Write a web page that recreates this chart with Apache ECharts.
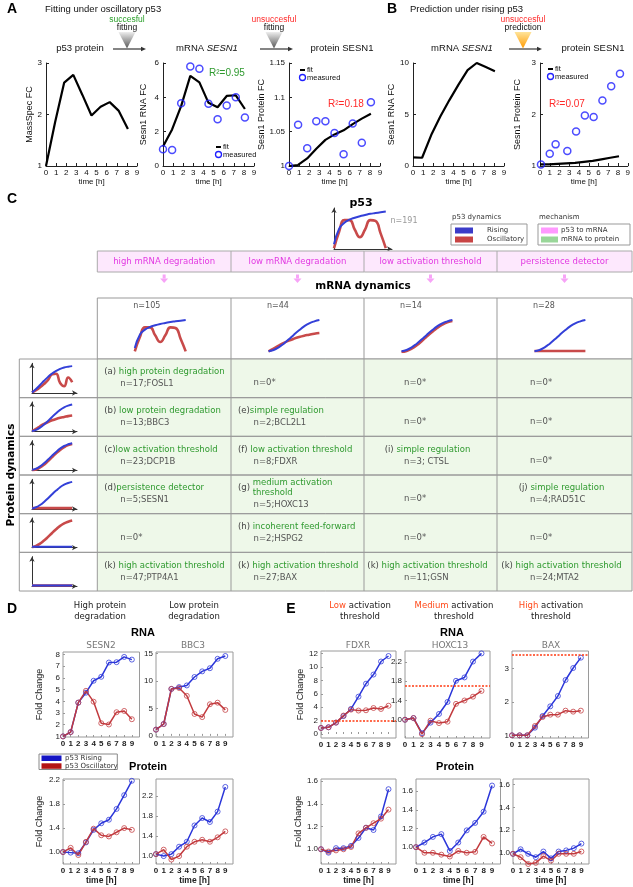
<!DOCTYPE html>
<html>
<head>
<meta charset="utf-8">
<script src="https://cdn.jsdelivr.net/npm/echarts@6/dist/echarts.min.js"></script>
<style>
  html, body { margin: 0; padding: 0; background: #fff; }
  #chart { width: 633px; height: 887px; }
</style>
</head>
<body>
<div id="chart"></div>
<script>
// ---- panel A / B : model fitting ----
const tSample = [0, 0.9, 1.8, 2.7, 3.6, 4.5, 5.4, 6.3, 7.2, 8.1];
const p53OscProtein = [1.0, 1.85, 2.62, 2.77, 2.38, 1.98, 2.15, 2.24, 2.07, 1.72];
const sesn1RnaMeasured = [0.97, 0.93, 3.66, 5.8, 5.67, 3.62, 2.72, 3.52, 4.0, 2.82];
const sesn1RnaFit = [1.13, 2.13, 3.5, 5.25, 4.87, 3.68, 3.42, 4.08, 4.12, 3.32];
const sesn1ProtMeasured = [1.0, 1.06, 1.026, 1.065, 1.065, 1.048, 1.017, 1.062, 1.034, 1.093];
const sesn1ProtFit = [1.0, 1.0015, 1.011, 1.025, 1.038, 1.046, 1.052, 1.061, 1.069, 1.076];
const sesn1RnaRising = [0.84, 0.8, 3.0, 4.8, 6.4, 7.9, 9.3, 10.0, 9.6, 9.2];
const tProtRising = [0.1, 1.0, 1.6, 2.8, 3.7, 4.6, 5.5, 6.4, 7.3, 8.2];
const sesn1ProtRisingMeasured = [1.03, 1.24, 1.42, 1.29, 1.67, 1.98, 1.95, 2.27, 2.55, 2.79];
const sesn1ProtRisingFit = [1.03, 1.03, 1.04, 1.05, 1.06, 1.08, 1.1, 1.13, 1.16, 1.19];

// ---- panel C : schematic shapes ----
const iconX = [0, 1, 2, 3, 4, 5, 6, 7, 8, 9, 10];
const shapeSat = [0.12, 0.52, 0.67, 0.75, 0.8, 0.84, 0.87, 0.9, 0.92, 0.94, 0.96];
const shapeOsc = [0.02, 0.45, 0.74, 0.74, 0.5, 0.3, 0.5, 0.74, 0.72, 0.4, 0.02];
const shapeS = [0.02, 0.06, 0.14, 0.25, 0.38, 0.52, 0.65, 0.77, 0.86, 0.92, 0.96];
const shapeSLag = [0.0, 0.03, 0.1, 0.2, 0.33, 0.47, 0.6, 0.72, 0.82, 0.89, 0.93];
const shapeConc = [0.02, 0.1, 0.19, 0.27, 0.34, 0.4, 0.45, 0.49, 0.52, 0.55, 0.57];
const shapeFlat = [0.03, 0.03, 0.03, 0.03, 0.03, 0.03, 0.03, 0.03, 0.03, 0.03, 0.03];
const protSat = [0.02, 0.14, 0.28, 0.43, 0.57, 0.69, 0.78, 0.85, 0.9, 0.93, 0.95];
const protOsc = [0.02, 0.1, 0.2, 0.32, 0.46, 0.66, 0.68, 0.35, 0.24, 0.55, 0.38];

const mechanisms = ['high mRNA degradation', 'low mRNA degradation', 'low activation threshold', 'persistence detector'];
const mrnaCounts = ['n=105', 'n=44', 'n=14', 'n=28'];
const mrnaShapes = [[shapeSat, shapeOsc], [shapeS, shapeConc], [shapeS, shapeSLag], [shapeS, shapeFlat]];
const protShapes = [[protSat, protOsc], [shapeS, shapeConc], [shapeS, shapeSLag], [shapeS, shapeFlat], [shapeFlat, shapeS], [shapeFlat, shapeFlat]];
const cellLabels = [
  ['(a) |high protein degradation', '', '', ''],
  ['(b) |low protein degradation', '(e)|simple regulation', '', ''],
  ['(c)|low activation threshold', '(f) |low activation threshold', '(i) |simple regulation', ''],
  ['(d)|persistence detector', '(g) |medium activation\nthreshold', '', '(j) |simple regulation'],
  ['', '(h) |incoherent feed-forward', '', ''],
  ['(k) |high activation threshold', '(k) |high activation threshold', '(k) |high activation threshold', '(k) |high activation threshold']
];
const cellCounts = [
  ['n=17;FOSL1', 'n=0*', 'n=0*', 'n=0*'],
  ['n=13;BBC3', 'n=2;BCL2L1', 'n=0*', 'n=0*'],
  ['n=23;DCP1B', 'n=8;FDXR', 'n=3; CTSL', 'n=0*'],
  ['n=5;SESN1', 'n=5;HOXC13', 'n=0*', 'n=4;RAD51C'],
  ['n=0*', 'n=2;HSPG2', 'n=0*', 'n=0*'],
  ['n=47;PTP4A1', 'n=27;BAX', 'n=11;GSN', 'n=24;MTA2']
];

// ---- panels D / E : time courses ----
const hours = [0, 1, 2, 3, 4, 5, 6, 7, 8, 9];
const sesn2RnaRise = [1.0, 1.37, 3.89, 4.74, 5.76, 6.1, 7.32, 7.35, 7.8, 7.57];
const sesn2RnaOsc = [1.0, 1.37, 3.89, 4.9, 3.97, 2.13, 2.02, 3.07, 3.18, 2.47];
const bbc3RnaRise = [1.14, 2.17, 8.57, 8.9, 9.2, 10.74, 11.77, 12.34, 14.06, 14.57];
const bbc3RnaOsc = [1.14, 2.17, 8.57, 8.74, 7.31, 4.0, 3.43, 5.77, 6.06, 4.74];
const sesn2ProtRise = [1.0, 0.99, 0.98, 1.16, 1.37, 1.48, 1.54, 1.72, 1.95, 2.19];
const sesn2ProtOsc = [1.0, 1.07, 0.95, 1.17, 1.39, 1.28, 1.26, 1.33, 1.4, 1.37];
const bbc3ProtRise = [1.03, 0.99, 1.03, 1.18, 1.28, 1.61, 1.76, 1.68, 1.89, 2.39];
const bbc3ProtOsc = [1.03, 1.12, 0.92, 0.99, 1.18, 1.28, 1.32, 1.28, 1.37, 1.49];
const fdxrRnaRise = [0.9, 1.0, 1.7, 2.67, 3.74, 5.58, 7.52, 8.88, 10.83, 11.65];
const fdxrRnaOsc = [0.9, 1.0, 1.7, 2.75, 3.64, 3.5, 3.54, 3.88, 3.74, 4.22];
const hoxc13RnaRise = [1.0, 1.035, 0.72, 0.94, 1.12, 1.37, 1.81, 1.88, 2.21, 2.38];
const hoxc13RnaOsc = [1.0, 1.035, 0.7, 0.98, 0.93, 0.96, 1.33, 1.4, 1.48, 1.6];
const baxRnaRise = [1.0, 1.0, 1.0, 1.23, 1.58, 1.87, 2.18, 2.66, 3.02, 3.33];
const baxRnaOsc = [1.0, 1.0, 1.0, 1.28, 1.55, 1.62, 1.62, 1.74, 1.71, 1.74];
const fdxrProtRise = [1.0, 0.97, 1.01, 1.01, 1.03, 1.1, 1.19, 1.17, 1.29, 1.53];
const fdxrProtOsc = [1.0, 0.98, 0.99, 1.0, 1.02, 1.14, 1.19, 1.23, 1.27, 1.35];
const hoxc13ProtRise = [1.0, 1.05, 1.11, 1.14, 0.96, 1.05, 1.18, 1.26, 1.38, 1.66];
const hoxc13ProtOsc = [1.0, 0.94, 0.94, 0.92, 0.9, 0.96, 0.94, 0.95, 1.11, 1.04];
const baxProtRise = [0.99, 1.03, 0.99, 0.96, 1.01, 0.95, 1.01, 1.02, 1.04, 1.08];
const baxProtOsc = [0.99, 0.96, 0.9, 0.91, 0.97, 0.93, 0.99, 0.99, 0.99, 1.01];
const rnaThresholds = [2.0, 1.71, 3.41];

const ticksProt = [1.0, 1.4, 1.8, 2.2];
const ticksProtE = [1.0, 1.2, 1.4, 1.6];

// ---------------------------------------------------------------
const SANS = '"Liberation Sans", Arial, sans-serif';
const VERD = '"DejaVu Sans", Verdana, sans-serif';
const BLUE = '#2b36d9', RED = '#c23a3e';
const GREEN_TXT = '#2f9a2f';

const grids = [], xAxes = [], yAxes = [], series = [], graphics = [];
const ctx = document.createElement('canvas').getContext('2d');
function measure(s, font) { ctx.font = font; return ctx.measureText(s).width; }
function pairs(xs, ys) { return xs.map((x, k) => [x, ys[k]]); }

function addPlot(box, xa, ya, list, gridExtra) {
  const i = grids.length;
  grids.push(Object.assign({ left: box[0], top: box[1], width: box[2], height: box[3] }, gridExtra || {}));
  xAxes.push(Object.assign({ gridIndex: i }, xa));
  yAxes.push(Object.assign({ gridIndex: i }, ya));
  list.forEach(s => series.push(Object.assign({ xAxisIndex: i, yAxisIndex: i }, s)));
}

function label(x, y, text, font, color, align, extra) {
  graphics.push(Object.assign({
    type: 'text', x: x, y: y, z: 20, silent: true,
    style: { text: text, font: font, fill: color || '#111', align: align || 'center', verticalAlign: 'middle',
      textAlign: align || 'center', textVerticalAlign: 'middle' }
  }, extra || {}));
}
function spans(x, y, parts, align) {
  const w = parts.map(p => measure(p[0], p[1]));
  const total = w.reduce((a, b) => a + b, 0);
  let cx = align === 'left' ? x : x - total / 2;
  parts.forEach((p, k) => { label(cx, y, p[0], p[1], p[2], 'left', p[3]); cx += w[k]; });
}
function rect(x, y, w, h, fill, stroke, z) {
  graphics.push({ type: 'rect', z: z || 1, silent: true, shape: { x: x, y: y, width: w, height: h },
    style: { fill: fill || 'none', stroke: stroke || null, lineWidth: 1 } });
}
function line(x1, y1, x2, y2, color, w, z) {
  graphics.push({ type: 'line', z: z || 2, silent: true, shape: { x1: x1, y1: y1, x2: x2, y2: y2 },
    style: { stroke: color, lineWidth: w || 1 } });
}
function poly(points, fill, z) {
  graphics.push({ type: 'polygon', z: z || 3, silent: true, shape: { points: points }, style: { fill: fill } });
}

// ---------------- panel A / B ----------------
function fitX() {
  return { type: 'value', min: 0, max: 9, interval: 1,
    axisLine: { show: true, onZero: false, lineStyle: { color: '#222', width: 1 } },
    axisTick: { show: true, inside: true, length: 3, lineStyle: { color: '#222' } },
    axisLabel: { fontSize: 8, color: '#111', margin: 3, fontFamily: SANS },
    splitLine: { show: false },
    name: 'time [h]', nameLocation: 'middle', nameGap: 12,
    nameTextStyle: { fontSize: 8, color: '#111', fontFamily: SANS } };
}
function fitY(min, max, ticks, name, gap) {
  return { type: 'value', min: min, max: max,
    axisLine: { show: true, onZero: false, lineStyle: { color: '#222', width: 1 } },
    axisTick: { show: true, inside: true, length: 3, customValues: ticks, lineStyle: { color: '#222' } },
    axisLabel: { customValues: ticks, fontSize: 8, color: '#111', margin: 4, fontFamily: SANS },
    splitLine: { show: false },
    name: name, nameLocation: 'middle', nameGap: gap,
    nameTextStyle: { fontSize: 9, color: '#111', fontFamily: SANS } };
}
const fitLine = ys => ({ type: 'line', data: pairs(tSample, ys), showSymbol: false, lineStyle: { color: '#000', width: 2.2 }, z: 3 });
const measuredPts = (xs, ys) => ({ type: 'scatter', data: pairs(xs, ys), symbol: 'circle', symbolSize: 7, clip: false,
  itemStyle: { color: 'rgba(0,0,0,0)', borderColor: '#1f1fff', borderWidth: 1.5 }, z: 4 });

addPlot([46, 63, 91, 103], fitX(), fitY(1, 3, [1, 2, 3], 'MassSpec FC', 11), [fitLine(p53OscProtein)]);
addPlot([163, 63, 91, 103], fitX(), fitY(0, 6, [0, 2, 4, 6], 'Sesn1 RNA FC', 15),
  [fitLine(sesn1RnaFit), measuredPts(tSample, sesn1RnaMeasured)]);
addPlot([289, 63, 91, 103], fitX(), fitY(1, 1.15, [1, 1.05, 1.1, 1.15], 'Sesn1 Protein FC', 19),
  [fitLine(sesn1ProtFit), measuredPts(tSample, sesn1ProtMeasured)]);
addPlot([413, 63, 91, 103], fitX(), fitY(0, 10, [0, 5, 10], 'Sesn1 RNA FC', 11), [fitLine(sesn1RnaRising)]);
addPlot([540, 63, 91, 103], fitX(), fitY(1, 3, [1, 2, 3], 'Sesn1 Protein FC', 18),
  [fitLine(sesn1ProtRisingFit), measuredPts(tProtRising, sesn1ProtRisingMeasured)]);

const F95 = '9.5px ' + SANS;
label(12, 9, 'A', 'bold 14px ' + SANS, '#000');
label(45, 9, 'Fitting under oscillatory p53', F95, '#111', 'left');
label(392, 9, 'B', 'bold 14px ' + SANS, '#000');
label(410, 9, 'Prediction under rising p53', F95, '#111', 'left');

label(80, 48, 'p53 protein', F95);
spans(207, 48, [['mRNA ', F95, '#111'], ['SESN1', 'italic ' + F95, '#111']]);
label(342, 48, 'protein SESN1', F95);
spans(462, 48, [['mRNA ', F95, '#111'], ['SESN1', 'italic ' + F95, '#111']]);
label(593, 48, 'protein SESN1', F95);

const F85 = '8.5px ' + SANS;
function processArrow(cx, top1, top2, word1, color1, word2, gradTop, gradBot) {
  label(cx, top1, word1, F85, color1);
  label(cx, top2, word2, F85, '#111');
  graphics.push({ type: 'polygon', z: 3, silent: true,
    shape: { points: [[cx - 8.5, 32], [cx + 8.5, 32], [cx, 48.5]] },
    style: { fill: { type: 'linear', x: 0, y: 0, x2: 0, y2: 1, colorStops: [{ offset: 0, color: gradTop }, { offset: 1, color: gradBot }] } } });
  line(cx - 14, 49, cx + 16, 49, '#333', 1.2);
  poly([[cx + 14, 46.8], [cx + 19, 49], [cx + 14, 51.2]], '#333');
}
processArrow(127, 20, 28, 'succesful', '#2aa02a', 'fitting', '#eeeeee', '#555555');
processArrow(274, 20, 28, 'unsuccesful', '#ff2a2a', 'fitting', '#eeeeee', '#555555');
processArrow(523, 20, 28, 'unsuccesful', '#ff2a2a', 'prediction', '#ffe49a', '#ff9a00');

const FL = '7.5px ' + SANS;
function fitLegend(x, y) {
  line(x, y, x + 5, y, '#000', 2);
  label(x + 7, y, 'fit', FL, '#111', 'left');
  graphics.push({ type: 'circle', z: 5, silent: true, shape: { cx: x + 2.5, cy: y + 7.5, r: 3 },
    style: { fill: 'none', stroke: '#1f1fff', lineWidth: 1.3 } });
  label(x + 7, y + 7.5, 'measured', FL, '#111', 'left');
}
fitLegend(216, 147);
fitLegend(300, 70);
fitLegend(548, 69);
label(227, 73, 'R²=0.95', '10px ' + SANS, GREEN_TXT);
label(346, 104, 'R²=0.18', '10px ' + SANS, '#ff2a2a');
label(567, 104, 'R²=0.07', '10px ' + SANS, '#ff2a2a');

// ---------------- panel C ----------------
function iconAxis(max) {
  return { type: 'value', min: 0, max: max,
    axisLine: { show: true, onZero: false, symbol: ['none', 'arrow'], symbolSize: [4, 5], lineStyle: { color: '#333', width: 1 } },
    axisTick: { show: false }, axisLabel: { show: false }, splitLine: { show: false } };
}
const curve = (ys, color, w) => ({ type: 'line', data: pairs(iconX, ys), smooth: 0.5, showSymbol: false, silent: true,
  lineStyle: { color: color, width: w }, z: 3 });
const ICON_BLUE = '#3340d8', ICON_RED = '#c84a4a';
function icon(box, shapes) {
  addPlot(box, iconAxis(11.2), iconAxis(1.05), [curve(shapes[1], ICON_RED, 2.6), curve(shapes[0], ICON_BLUE, 2)]);
}

label(12, 199, 'C', 'bold 14px ' + SANS, '#000');
label(361, 203, 'p53', 'bold 11px ' + VERD, '#000');
icon([334, 208, 58, 41], [shapeSat, shapeOsc]);
label(404, 221, 'n=191', '8px ' + VERD, '#999');

const FS = '7px ' + VERD;
label(452, 217, 'p53 dynamics', FS, '#333', 'left');
rect(451, 224, 76, 21, '#fff', '#999');
rect(455, 227.5, 18, 6, '#3b3bc8');
rect(455, 236.5, 18, 6, '#c84444');
label(487, 230.5, 'Rising', FS, '#333', 'left');
label(487, 239.5, 'Oscillatory', FS, '#333', 'left');
label(539, 217, 'mechanism', FS, '#333', 'left');
rect(538, 224, 92, 21, '#fff', '#999');
rect(541, 227.5, 17, 6, '#ff99ff');
rect(541, 236.5, 17, 6, '#99d699');
label(561, 230.5, 'p53 to mRNA', FS, '#333', 'left');
label(561, 239.5, 'mRNA to protein', FS, '#333', 'left');

const colEdges = [97.3, 231, 364, 497, 632];
const FT = '8.5px ' + VERD;
// pink mechanism band
rect(97.3, 251, 534.7, 21, '#fde8fd', '#aaa');
for (let c = 0; c < 4; c++) {
  const cx = (colEdges[c] + colEdges[c + 1]) / 2;
  if (c > 0) line(colEdges[c], 251, colEdges[c], 272, '#aaa');
  label(cx, 261.5, mechanisms[c], FT, '#e23ae2');
  rect(cx - 1.5, 274.5, 3, 4, '#f7a3f7');
  poly([[cx - 4, 278.5], [cx + 4, 278.5], [cx, 283]], '#f7a3f7');
}
label(363, 286, 'mRNA dynamics', 'bold 10.5px ' + VERD, '#000');

// header row with mRNA shapes
rect(97.3, 298, 534.7, 61, '#fff', '#999');
for (let c = 0; c < 4; c++) {
  if (c > 0) line(colEdges[c], 298, colEdges[c], 359, '#999');
  label(colEdges[c] + 36, 306, mrnaCounts[c], '8px ' + VERD, '#555', 'left');
  icon([colEdges[c] + 37.5, 317, 57, 35], mrnaShapes[c]);
}

// protein dynamics rows
const rowTop = 359, rowH = 38.67;
const countOffset = [23, 22.5, 40, 33];
for (let r = 0; r < 6; r++) {
  const top = rowTop + r * rowH;
  rect(97.3, top, 534.7, rowH, '#eef8e9', null, 0);
  rect(19.3, top, 612.7, rowH, 'none', '#9a9a9a', 2);
  line(97.3, top, 97.3, top + rowH, '#9a9a9a');
  for (let c = 1; c < 4; c++) line(colEdges[c], top, colEdges[c], top + rowH, '#9a9a9a');
  icon([32, top + 4.3, 45, rowH - 9], protShapes[r]);
  for (let c = 0; c < 4; c++) {
    const lab = cellLabels[r][c];
    let lines = 1;
    if (lab) {
      const parts = lab.split('|');
      lines = parts[1].split('\n').length;
      const tagW = measure(parts[0], FT);
      const nameW = Math.max.apply(null, parts[1].split('\n').map(s => measure(s, FT)));
      let x = colEdges[c] + 7;
      if (c >= 2) x = (colEdges[c] + colEdges[c + 1]) / 2 - 3 - (tagW + nameW) / 2;
      label(x, top + 13, parts[0], FT, '#444', 'left');
      label(x + tagW, top + 13, parts[1], FT, GREEN_TXT, 'left', { style: { text: parts[1], font: FT, fill: GREEN_TXT,
        align: 'left', verticalAlign: 'middle', textAlign: 'left', textVerticalAlign: 'middle', lineHeight: 10.4 } });
    }
    const cy = lab ? top + 25 + (lines - 1) * 4.3 : top + 24;
    label(colEdges[c] + countOffset[c], cy, cellCounts[r][c], FT, '#555', 'left');
  }
}
label(11, 475, 'Protein dynamics', 'bold 10.5px ' + VERD, '#000', 'center', { rotation: Math.PI / 2 });

// ---------------- panels D / E ----------------
function frameX(showName) {
  return { type: 'value', min: 0, max: 10,
    axisLine: { show: false }, splitLine: { show: false },
    axisTick: { show: true, inside: true, length: 2, customValues: hours, lineStyle: { color: '#999' } },
    axisLabel: { customValues: hours, fontSize: 8, color: '#222', margin: 3, fontFamily: SANS, fontWeight: 'bold' },
    name: showName ? 'time [h]' : '', nameLocation: 'middle', nameGap: 11,
    nameTextStyle: { fontSize: 8.5, color: '#222', fontFamily: SANS, fontWeight: 'bold' } };
}
function frameY(min, max, ticks, dec, name, gap) {
  return { type: 'value', min: min, max: max,
    axisLine: { show: false }, splitLine: { show: false },
    axisTick: { show: true, inside: true, length: 2, customValues: ticks, lineStyle: { color: '#999' } },
    axisLabel: { customValues: ticks, formatter: v => Number(v).toFixed(dec), fontSize: 8, color: '#222', margin: 3, fontFamily: SANS },
    name: name || '', nameLocation: 'middle', nameGap: gap || 15,
    nameTextStyle: { fontSize: 9, color: '#222', fontFamily: SANS } };
}
function ts(ys, color, thr) {
  const s = { type: 'line', data: pairs(hours, ys), symbol: 'circle', symbolSize: 5, showSymbol: true, clip: false,
    itemStyle: { color: 'rgba(255,255,255,0)', borderColor: color, borderWidth: 0.9, opacity: 0.85 },
    lineStyle: { color: color, width: 1.5 }, z: 3 };
  if (thr !== undefined) {
    s.markLine = { silent: true, symbol: ['none', 'none'], label: { show: false },
      lineStyle: { color: '#ff3a10', type: [2, 1.5], width: 1.6 }, data: [{ yAxis: thr }] };
  }
  return s;
}
const frame = { show: true, borderColor: '#9a9a9a', borderWidth: 1, backgroundColor: '#fff' };

// D
addPlot([63, 652, 76.5, 85], frameX(false), frameY(0.95, 8.22, [1, 2, 3, 4, 5, 6, 7, 8], 0, 'Fold Change', 18.5),
  [ts(sesn2RnaRise, BLUE), ts(sesn2RnaOsc, RED)], frame);
addPlot([156, 652, 77, 85], frameX(false), frameY(-0.2, 15.3, [0, 5, 10, 15], 0),
  [ts(bbc3RnaRise, BLUE), ts(bbc3RnaOsc, RED)], frame);
addPlot([63, 779, 76.5, 85], frameX(true), frameY(0.8, 2.22, ticksProt, 1, 'Fold Change', 18.5),
  [ts(sesn2ProtRise, BLUE), ts(sesn2ProtOsc, RED)], frame);
addPlot([156, 779, 77, 85], frameX(true), frameY(0.83, 2.55, ticksProt, 1),
  [ts(bbc3ProtRise, BLUE), ts(bbc3ProtOsc, RED)], frame);

// E
addPlot([321, 651, 75, 87], frameX(false), frameY(-0.6, 12.4, [0, 2, 4, 6, 8, 10, 12], 0, 'Fold Change', 13.5),
  [ts(fdxrRnaRise, BLUE), ts(fdxrRnaOsc, RED, rnaThresholds[0])], frame);
addPlot([405, 651, 85, 87], frameX(false), frameY(0.62, 2.43, ticksProt, 1),
  [ts(hoxc13RnaRise, BLUE), ts(hoxc13RnaOsc, RED, rnaThresholds[1])], frame);
addPlot([512, 651, 76.5, 87], frameX(false), frameY(0.92, 3.53, [1, 2, 3], 0),
  [ts(baxRnaRise, BLUE), ts(baxRnaOsc, RED, rnaThresholds[2])], frame);
addPlot([321, 779, 75, 85], frameX(true), frameY(0.87, 1.62, ticksProtE, 1, 'Fold Change', 13.5),
  [ts(fdxrProtRise, BLUE), ts(fdxrProtOsc, RED)], frame);
addPlot([416, 779, 84.5, 85], frameX(true), frameY(0.82, 1.73, ticksProtE, 1),
  [ts(hoxc13ProtRise, BLUE), ts(hoxc13ProtOsc, RED)], frame);
addPlot([513, 779, 76, 85], frameX(true), frameY(0.9, 1.65, ticksProtE, 1),
  [ts(baxProtRise, BLUE), ts(baxProtOsc, RED)], frame);

const FH = '8.5px ' + VERD;
label(12, 609, 'D', 'bold 14px ' + SANS, '#000');
label(100, 606, 'High protein', FH, '#222');
label(100, 617, 'degradation', FH, '#222');
label(194, 606, 'Low protein', FH, '#222');
label(194, 617, 'degradation', FH, '#222');
label(291, 609, 'E', 'bold 14px ' + SANS, '#000');
spans(360, 606, [['Low', FH, '#ff4a1a'], [' activation', FH, '#222']]);
label(360, 617, 'threshold', FH, '#222');
spans(454, 606, [['Medium', FH, '#ff4a1a'], [' activation', FH, '#222']]);
label(454, 617, 'threshold', FH, '#222');
spans(551, 606, [['High', FH, '#ff4a1a'], [' activation', FH, '#222']]);
label(551, 617, 'threshold', FH, '#222');

const FB = 'bold 11px ' + SANS;
label(143, 633, 'RNA', FB, '#000');
label(452, 633, 'RNA', FB, '#000');
label(148, 767, 'Protein', FB, '#000');
label(455, 767, 'Protein', FB, '#000');

const FG = '9px ' + VERD;
label(101, 646, 'SESN2', FG, '#777');
label(193, 646, 'BBC3', FG, '#777');
label(358, 646, 'FDXR', FG, '#777');
label(450, 646, 'HOXC13', FG, '#777');
label(551, 646, 'BAX', FG, '#777');

rect(39, 754, 78.3, 15.5, '#fff', '#888');
rect(41.5, 755.5, 20, 5.5, '#1414c4');
rect(41.5, 763.3, 20, 5.5, '#b41414');
label(65, 758.3, 'p53 Rising', '7px ' + VERD, '#333', 'left');
label(65, 766, 'p53 Oscillatory', '7px ' + VERD, '#333', 'left');

const chart = echarts.init(document.getElementById('chart'));
chart.setOption({
  animation: false,
  backgroundColor: '#fff',
  grid: grids,
  xAxis: xAxes,
  yAxis: yAxes,
  series: series,
  graphic: { elements: graphics }
});
</script>
</body>
</html>
